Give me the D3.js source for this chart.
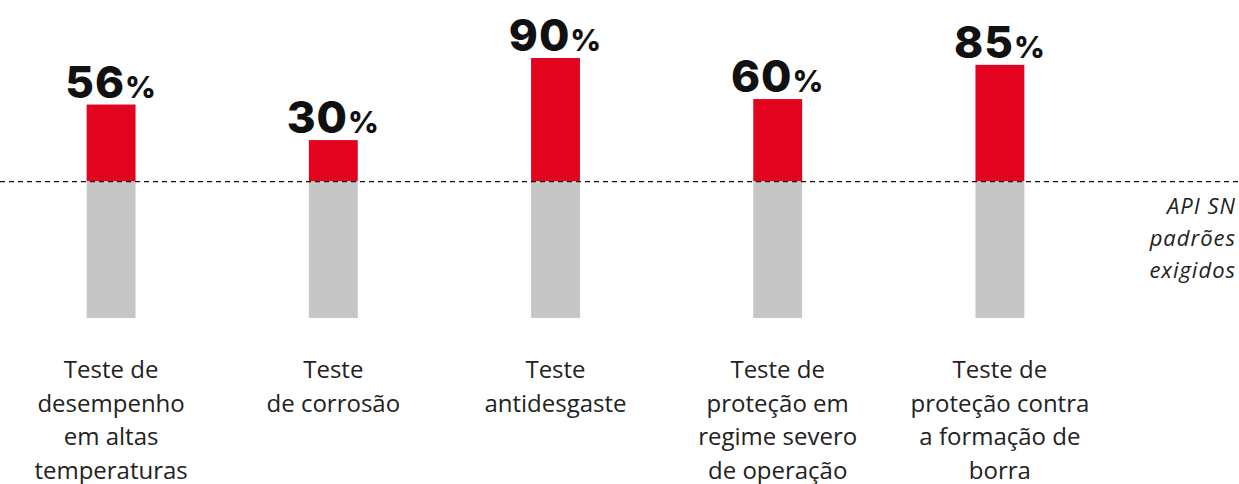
<!DOCTYPE html>
<html lang="pt">
<head>
<meta charset="utf-8">
<title>API SN</title>
<script src="https://cdn.jsdelivr.net/npm/d3@7"></script>
<style>
  body { margin: 0; background: #fff; }
  text { font-family: "Open Sans", "Noto Sans", sans-serif; }
</style>
</head>
<body>
<svg id="chart" width="1239" height="484"></svg>
<script>
// data
var categories = [
  ["Teste de", "desempenho", "em altas", "temperaturas"],
  ["Teste", "de corrosão"],
  ["Teste", "antidesgaste"],
  ["Teste de", "proteção em", "regime severo", "de operação"],
  ["Teste de", "proteção contra", "a formação de", "borra"]
];
var values = [56, 30, 90, 60, 85];   // % above the API SN standard
var baseline = 100;                   // API SN standard level
var refLabel = ["API SN", "padrões", "exigidos"];

var svg = d3.select("#chart"),
    width = +svg.attr("width");

var x = d3.scaleBand()
  .domain(d3.range(values.length))
  .range([0, 1111])
  .paddingInner(0.78)
  .paddingOuter(0.39);

var y = d3.scaleLinear()
  .domain([0, 190])
  .range([318, 58]);

// gray base bars
svg.selectAll("rect.base")
  .data(values)
  .enter().append("rect")
  .attr("class", "base")
  .attr("x", (d, i) => x(i))
  .attr("width", x.bandwidth())
  .attr("y", y(baseline))
  .attr("height", y(0) - y(baseline))
  .attr("fill", "#c6c6c6");

// red bars (extra over standard)
svg.selectAll("rect.extra")
  .data(values)
  .enter().append("rect")
  .attr("class", "extra")
  .attr("x", (d, i) => x(i))
  .attr("width", x.bandwidth())
  .attr("y", d => y(baseline + d))
  .attr("height", d => y(baseline) - y(baseline + d))
  .attr("fill", "#e2041f");

// dashed reference line
svg.append("line")
  .attr("x1", 0).attr("x2", width)
  .attr("y1", y(baseline) + 0.5).attr("y2", y(baseline) + 0.5)
  .attr("stroke", "#111")
  .attr("stroke-width", 1.2)
  .attr("stroke-dasharray", "5,4");

// value labels
var vl = svg.selectAll("text.val")
  .data(values)
  .enter().append("text")
  .attr("class", "val")
  .attr("x", (d, i) => x(i) + x.bandwidth() / 2)
  .attr("y", d => y(baseline + d) - 7)
  .attr("text-anchor", "middle")
  .style("font-family", "Inter, Lato, sans-serif")
  .style("font-weight", 800)
  .style("letter-spacing", "1px")
  .attr("fill", "#111");
vl.append("tspan").attr("font-size", 44).text(d => d);
vl.append("tspan").attr("font-size", 30).text("%");

// category labels
svg.selectAll("text.cat")
  .data(categories)
  .enter().append("text")
  .attr("class", "cat")
  .attr("text-anchor", "middle")
  .attr("font-size", 24)
  .attr("fill", "#222")
  .selectAll("tspan")
  .data((d, i) => d.map(t => ({t: t, i: i})))
  .enter().append("tspan")
  .attr("x", d => x(d.i) + x.bandwidth() / 2)
  .attr("y", (d, j) => 378 + j * 33.5)
  .text(d => d.t);

// reference label
svg.append("text")
  .attr("text-anchor", "end")
  .attr("font-size", 22)
  .attr("font-style", "italic")
  .style("letter-spacing", "1px")
  .attr("fill", "#222")
  .selectAll("tspan")
  .data(refLabel)
  .enter().append("tspan")
  .attr("x", 1236)
  .attr("y", (d, j) => 214 + j * 32)
  .text(d => d);
</script>
</body>
</html>
